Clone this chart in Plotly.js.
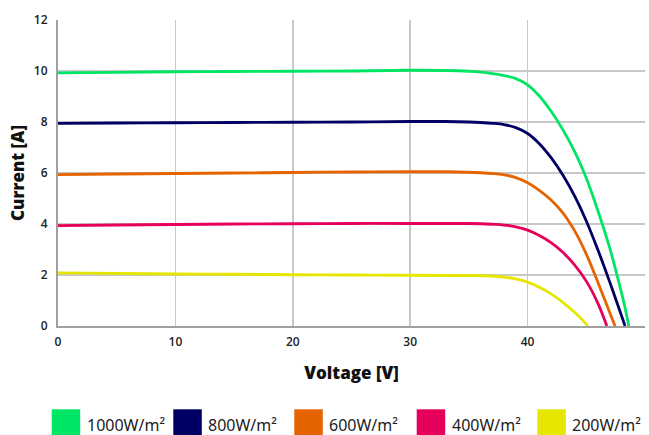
<!DOCTYPE html>
<html>
<head>
<meta charset="utf-8">
<script src="https://cdn.plot.ly/plotly-3.0.1.min.js"></script>
<style>html,body{margin:0;padding:0;background:#fff;}#chart{width:649px;height:435px;}</style>
</head>
<body>
<div id="chart"></div>
<script>
// Series names and colours
const seriesNames = ["1000W/m²", "800W/m²", "600W/m²", "400W/m²", "200W/m²"];
const seriesColors = ["#00e664", "#000064", "#e66400", "#e6005c", "#e6e600"];

// Voltage [V] / Current [A]
const v1000 = [0, 5, 10, 15, 20, 25, 30, 33, 35, 36, 37, 38, 39, 40, 41, 42, 43, 44, 45, 46, 47, 48, 48.3, 48.62];
const i1000 = [9.93, 9.95, 9.97, 9.98, 9.99, 10.0, 10.03, 10.02, 9.99, 9.96, 9.9, 9.82, 9.7, 9.46, 9.02, 8.42, 7.7, 6.85, 5.8, 4.5, 3.05, 1.3, 0.72, 0];

const v800 = [0, 5, 10, 15, 20, 25, 30, 33, 35, 36, 37, 38, 39, 40, 41, 42, 43, 44, 45, 46, 47, 48, 48.3];
const i800 = [7.95, 7.96, 7.97, 7.98, 7.99, 8.0, 8.02, 8.02, 8.0, 7.98, 7.95, 7.9, 7.78, 7.55, 7.15, 6.6, 5.92, 5.1, 4.12, 2.97, 1.72, 0.4, 0];

const v600 = [0, 5, 10, 15, 20, 25, 30, 33, 35, 36, 37, 38, 39, 40, 41, 42, 43, 44, 45, 46, 47, 47.45];
const i600 = [5.94, 5.96, 5.98, 6.0, 6.02, 6.04, 6.05, 6.05, 6.03, 6.01, 5.98, 5.93, 5.82, 5.62, 5.32, 4.94, 4.44, 3.74, 2.82, 1.7, 0.52, 0];

const v400 = [0, 5, 10, 15, 20, 25, 30, 33, 35, 36, 37, 38, 39, 40, 41, 42, 43, 44, 45, 46, 46.75];
const i400 = [3.94, 3.96, 3.98, 4.0, 4.01, 4.02, 4.02, 4.02, 4.02, 4.01, 3.99, 3.96, 3.89, 3.76, 3.55, 3.27, 2.89, 2.4, 1.76, 0.88, 0];

const v200 = [0, 5, 10, 15, 20, 25, 30, 33, 35, 36, 37, 38, 39, 40, 41, 42, 43, 44, 45, 45.1];
const i200 = [2.08, 2.06, 2.04, 2.03, 2.01, 2.0, 1.99, 1.98, 1.98, 1.97, 1.96, 1.92, 1.85, 1.72, 1.52, 1.26, 0.93, 0.54, 0.07, 0];

const xTicks = [0, 10, 20, 30, 40, 50];
const yTicks = [0, 2, 4, 6, 8, 10, 12];

const xs = [v1000, v800, v600, v400, v200];
const ys = [i1000, i800, i600, i400, i200];

const traces = xs.map((x, k) => ({
  type: "scatter", mode: "lines", x: x, y: ys[k], name: seriesNames[k],
  line: {color: seriesColors[k], width: 2.8, shape: "spline", smoothing: 1},
  showlegend: false, hoverinfo: "skip"
}));

// Plot area geometry (pixels)
const W = 649, H = 435, L = 58, R = 4, T = 20, B = 109;
const pw = W - L - R, ph = H - T - B;
const px2x = p => (p - L) / pw;
const py2y = p => (H - B - p) / ph;

// custom legend: squares + text
const legSquareX = [51.7, 173.3, 294.3, 416.7, 537.3];
const shapes = [], annotations = [];
seriesNames.forEach((n, k) => {
  shapes.push({type: "rect", xref: "paper", yref: "paper",
    x0: px2x(legSquareX[k]), x1: px2x(legSquareX[k] + 28.5),
    y0: py2y(435), y1: py2y(409.3),
    fillcolor: seriesColors[k], line: {width: 0}});
  annotations.push({xref: "paper", yref: "paper", x: px2x(legSquareX[k] + 33), y: py2y(424.5),
    xanchor: "left", yanchor: "middle", text: n, showarrow: false,
    font: {family: "Noto Sans", size: 16, color: "#222"}});
});

const layout = {
  width: W, height: H,
  margin: {l: L, r: R, t: T, b: B},
  paper_bgcolor: "#fff", plot_bgcolor: "#fff",
  showlegend: false,
  xaxis: {
    range: [0, 50], tickvals: xTicks, ticktext: xTicks.map(String),
    showgrid: true, gridcolor: "#c8c8c8", gridwidth: 1.5,
    showline: true, linecolor: "#a0a0a0", linewidth: 2,
    zeroline: false, ticks: "", ticklabelstandoff: 4,
    tickfont: {family: "Open Sans", size: 12, color: "#222", weight: 600},
    title: {text: "Voltage [V]", standoff: 18, font: {family: "Open Sans", size: 17, color: "#111", weight: 800}}
  },
  yaxis: {
    range: [0, 12], tickvals: yTicks, ticktext: yTicks.map(String),
    showgrid: true, gridcolor: "#c8c8c8", gridwidth: 1.5,
    showline: true, linecolor: "#a0a0a0", linewidth: 2,
    zeroline: false, ticks: "", ticklabelstandoff: 6,
    tickfont: {family: "Open Sans", size: 12, color: "#222", weight: 600},
    title: {text: "Current [A]", standoff: 5, font: {family: "Open Sans", size: 17, color: "#111", weight: 800}}
  },
  shapes: shapes,
  annotations: annotations
};

Plotly.newPlot("chart", traces, layout, {staticPlot: true, displayModeBar: false});
</script>
</body>
</html>
